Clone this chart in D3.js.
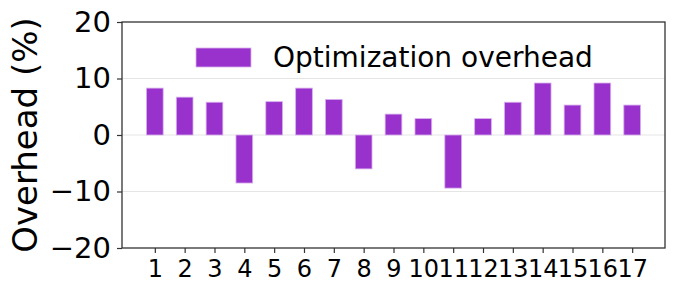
<!DOCTYPE html>
<html>
<head>
<meta charset="utf-8">
<script src="https://cdn.jsdelivr.net/npm/d3@7"></script>
<style>
  body { margin: 0; background: #fff; }
  svg { display: block; font-family: "DejaVu Sans", sans-serif; }
</style>
</head>
<body>
<svg id="chart"></svg>
<script>
// données
const categories = d3.range(1, 18);
const overhead = [8.3, 6.7, 5.8, -8.5, 5.9, 8.3, 6.3, -6.0, 3.7, 2.9, -9.4, 2.9, 5.8, 9.2, 5.3, 9.2, 5.3];
const yTicks = [-20, -10, 0, 10, 20];
const gridTicks = [-10, 0, 10];
const legendLabel = "Optimization overhead";

const width = 680, height = 292;
const margin = { top: 22, right: 15, bottom: 44, left: 122 };

const svg = d3.select("#chart")
  .attr("width", width)
  .attr("height", height);

// échelles
const x = d3.scaleLinear()
  .domain([-0.1, 18.1])
  .range([margin.left, width - margin.right]);

const y = d3.scaleLinear()
  .domain([-20, 20])
  .range([height - margin.bottom, margin.top]);

// grille horizontale
svg.append("g")
  .selectAll("line")
  .data(gridTicks)
  .join("line")
  .attr("x1", margin.left)
  .attr("x2", width - margin.right)
  .attr("y1", d => y(d))
  .attr("y2", d => y(d))
  .attr("stroke", "#e5e5e5")
  .attr("stroke-width", 1);

// barres
const barW = x(0.56) - x(0);
svg.append("g")
  .selectAll("rect")
  .data(overhead)
  .join("rect")
  .attr("x", (d, i) => x(categories[i]) - barW / 2)
  .attr("y", d => y(Math.max(0, d)))
  .attr("width", barW)
  .attr("height", d => Math.abs(y(d) - y(0)))
  .attr("fill", "#9932cc")
  .attr("stroke", "#d7b0ee")
  .attr("stroke-width", 0.8);

// axe Y
const yAxis = svg.append("g")
  .attr("transform", `translate(${margin.left},0)`)
  .call(d3.axisLeft(y).tickValues(yTicks).tickSize(5).tickPadding(6)
    .tickFormat(d => d < 0 ? "\u2212" + Math.abs(d) : d));
yAxis.select(".domain").remove();
yAxis.selectAll("line").attr("stroke", "#333").attr("stroke-width", 1.2);
yAxis.selectAll("text").attr("font-size", 29).attr("fill", "#000")
  .attr("font-family", "DejaVu Sans");

// axe X
const xAxis = svg.append("g")
  .attr("transform", `translate(0,${height - margin.bottom})`)
  .call(d3.axisBottom(x).tickValues(categories).tickSize(5).tickPadding(7));
xAxis.select(".domain").remove();
xAxis.selectAll("line").attr("stroke", "#333").attr("stroke-width", 1.2);
xAxis.selectAll("text").attr("font-size", 24).attr("fill", "#000")
  .attr("font-family", "DejaVu Sans");

// cadre
svg.append("rect")
  .attr("x", margin.left)
  .attr("y", margin.top)
  .attr("width", width - margin.right - margin.left)
  .attr("height", height - margin.bottom - margin.top)
  .attr("fill", "none")
  .attr("stroke", "#333")
  .attr("stroke-width", 1.3);

// titre axe Y
svg.append("text")
  .attr("transform", `translate(37,${(margin.top + height - margin.bottom) / 2}) rotate(-90)`)
  .attr("text-anchor", "middle")
  .attr("font-size", 34)
  .attr("fill", "#000")
  .text("Overhead (%)");

// légende
const legend = svg.append("g").attr("transform", "translate(196,48)");
legend.append("rect")
  .attr("width", 55)
  .attr("height", 19)
  .attr("fill", "#9932cc")
  .attr("stroke", "#d7b0ee")
  .attr("stroke-width", 0.8);
legend.append("text")
  .attr("x", 77)
  .attr("y", 19)
  .attr("font-size", 28)
  .attr("fill", "#000")
  .text(legendLabel);
</script>
</body>
</html>
